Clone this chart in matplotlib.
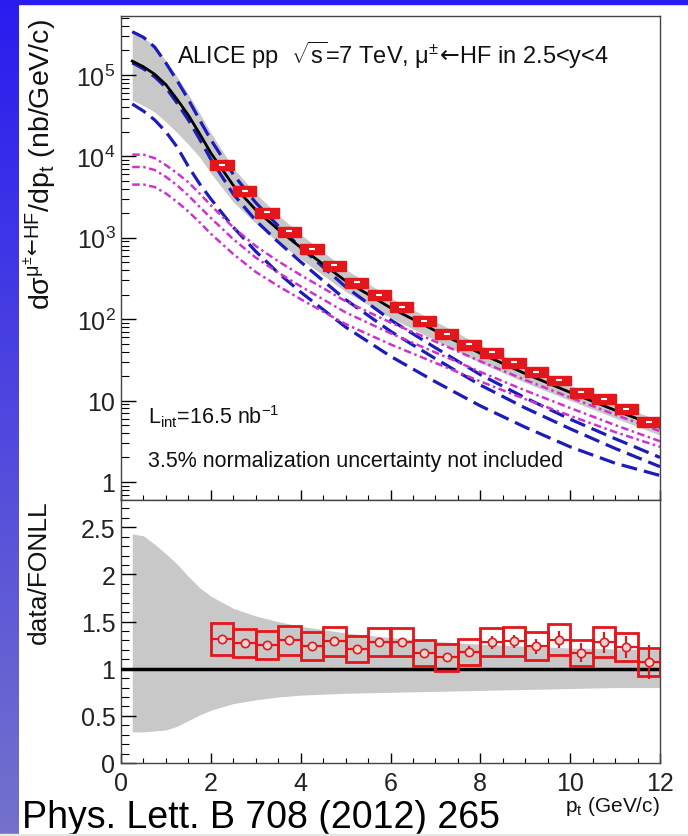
import numpy as np
import matplotlib
matplotlib.use('Agg')
import matplotlib.pyplot as plt
from matplotlib.patches import Rectangle
from matplotlib.ticker import MultipleLocator, LogLocator, FuncFormatter, NullFormatter

plt.rcParams['font.family'] = ['Liberation Sans', 'DejaVu Sans']
plt.rcParams['mathtext.fontset'] = 'custom'
plt.rcParams['mathtext.rm'] = 'Liberation Sans'
plt.rcParams['mathtext.it'] = 'Liberation Sans:italic'
plt.rcParams['mathtext.bf'] = 'Liberation Sans:bold'
plt.rcParams['mathtext.sf'] = 'DejaVu Sans'

# FONLL curves (nb/GeV/c) on a pt grid
pt_fonll = [0.25, 0.5, 0.75, 1, 1.25, 1.5, 1.75, 2, 2.5, 3, 3.5, 4, 5, 6, 7, 8, 9, 10, 11, 12]
fonll_tot = [1.48e5, 1.26e5, 1.02e5, 7.6e4, 5.0e4, 3.2e4, 1.9e4, 1.1e4, 4.4e3, 2.2e3, 1.26e3,
             760, 295, 138, 72, 38, 21.4, 12.6, 7.6, 4.7]
band_hi = [3.4e5, 2.9e5, 2.25e5, 1.5e5, 9.5e4, 5.8e4, 3.4e4, 1.95e4, 7.2e3, 3.5e3, 1.9e3,
           1.1e3, 410, 183, 94, 48, 26.6, 15.4, 9.2, 5.6]
band_lo = [4.9e4, 4.2e4, 3.5e4, 2.65e4, 1.95e4, 1.4e4, 9.8e3, 6.2e3, 2.75e3, 1.5e3, 880,
           550, 218, 104, 55, 29, 16.6, 10, 6.1, 3.75]
charm_c = [1.41e5, 1.19e5, 9.5e4, 7.0e4, 4.5e4, 2.8e4, 1.63e4, 9.2e3, 3.44e3, 1.63e3, 887,
           506, 174, 71, 32.7, 15.5, 8.1, 4.5, 2.58, 1.54]
charm_hi = [3.4e5, 2.9e5, 2.2e5, 1.4e5, 8.5e4, 5.0e4, 2.8e4, 1.6e4, 6.0e3, 2.7e3, 1.4e3,
            760, 250, 98, 44.5, 20.8, 10.8, 5.9, 3.4, 2.0]
charm_lo = [4.4e4, 3.6e4, 2.8e4, 2.0e4, 1.3e4, 7.5e3, 4.6e3, 3.0e3, 1.35e3, 680, 370,
            215, 80, 35, 17, 8.6, 4.7, 2.7, 1.7, 1.2]
beauty_c = [7.4e3, 7.4e3, 6.8e3, 5.6e3, 4.4e3, 3.3e3, 2.4e3, 1.75e3, 960, 570, 373,
            253, 121, 67, 39, 22.5, 13.3, 8.1, 5.0, 3.16]
beauty_hi = [1.05e4, 1.05e4, 9.5e3, 7.8e3, 6.2e3, 4.8e3, 3.5e3, 2.5e3, 1.34e3, 790, 515,
             348, 166, 91, 53, 30.4, 17.9, 10.9, 6.7, 4.2]
beauty_lo = [4.5e3, 4.5e3, 4.2e3, 3.5e3, 2.75e3, 2.1e3, 1.55e3, 1.12e3, 630, 380, 255,
             176, 87, 49, 29, 17.2, 10.4, 6.5, 4.1, 2.7]

# ratio band data/FONLL
ratio_hi = [2.43, 2.41, 2.32, 2.22, 2.11, 1.98, 1.86, 1.77, 1.64, 1.56, 1.50, 1.45, 1.38,
            1.33, 1.29, 1.26, 1.24, 1.22, 1.21, 1.20]
ratio_lo = [0.33, 0.33, 0.34, 0.35, 0.39, 0.45, 0.51, 0.56, 0.63, 0.67, 0.70, 0.72, 0.74,
            0.75, 0.76, 0.77, 0.78, 0.79, 0.80, 0.80]

# measured points
pt_data = [2.25, 2.75, 3.25, 3.75, 4.25, 4.75, 5.25, 5.75, 6.25, 6.75,
           7.25, 7.75, 8.25, 8.75, 9.25, 9.75, 10.25, 10.75, 11.25, 11.75]
sigma_data = [7.9e3, 3.8e3, 2.05e3, 1.2e3, 725, 457, 282, 200, 141, 95,
              66, 49, 39, 29.5, 22.4, 17.8, 12.6, 10.5, 7.9, 5.5]
sigma_syst = [0.15, 0.14, 0.14, 0.14, 0.14, 0.14, 0.14, 0.14, 0.14, 0.14,
              0.14, 0.14, 0.14, 0.14, 0.14, 0.14, 0.14, 0.14, 0.14, 0.14]
ratio_data = [1.32, 1.27, 1.25, 1.30, 1.24, 1.29, 1.21, 1.28, 1.28, 1.17,
              1.12, 1.18, 1.28, 1.29, 1.24, 1.31, 1.17, 1.28, 1.23, 1.07]
ratio_syst = [0.17, 0.15, 0.15, 0.15, 0.15, 0.15, 0.14, 0.15, 0.15, 0.14,
              0.14, 0.14, 0.15, 0.15, 0.15, 0.16, 0.14, 0.16, 0.15, 0.15]
ratio_stat = [0.02, 0.02, 0.02, 0.02, 0.02, 0.02, 0.03, 0.03, 0.03, 0.04,
              0.05, 0.06, 0.07, 0.07, 0.08, 0.09, 0.10, 0.11, 0.12, 0.18]

W, H = 688, 837
fig = plt.figure(figsize=(W / 100, H / 100), dpi=100)
fig.patch.set_facecolor('white')

# blue slide background
bg = fig.add_axes([0, 0, 1, 1], zorder=-10)
top_c = np.array([0x2a, 0x1c, 0xf0]) / 255
bot_c = np.array([0x74, 0x72, 0xcc]) / 255
g = np.linspace(0, 1, 200)[:, None]
img = (top_c * (1 - g) + bot_c * g)[:, None, :]
bg.imshow(img, extent=[0, 19, H, 0], aspect='auto')
bg.add_patch(Rectangle((0, 0), W, 5, color=top_c))
bg.set_xlim(0, W)
bg.set_ylim(H, 0)
bg.axis('off')
fig.add_artist(Rectangle((0, 0), 1, 2 / H, transform=fig.transFigure,
                         color='#e6e9dd', zorder=20))

red = '#e3161b'
ax1 = fig.add_axes([121 / W, 1 - 501 / H, 539 / W, 484 / H])
ax2 = fig.add_axes([121 / W, 1 - 764 / H, 539 / W, 263 / H])

# upper panel
ax1.fill_between(pt_fonll, band_lo, band_hi, color='#c8c8c8', lw=0, zorder=1)
for arr in (charm_hi, charm_c, charm_lo):
    ax1.plot(pt_fonll, arr, color='#1c1cb8', lw=2.3, ls=(0, (5, 2.2)), zorder=3)
for arr in (beauty_hi, beauty_c, beauty_lo):
    ax1.plot(pt_fonll, arr, color='#cc33cc', lw=1.8, ls=(0, (3, 1.4, 1, 1.4)), zorder=3)
ax1.plot(pt_fonll, fonll_tot, color='black', lw=2, zorder=4)
for x, v, s in zip(pt_data, sigma_data, sigma_syst):
    ax1.add_patch(Rectangle((x - 0.26, v * (1 - s)), 0.52, 2 * v * s,
                            facecolor=red, edgecolor=red, lw=1, zorder=5))
ax1.plot(pt_data, sigma_data, ls='none', marker='_', color='white', ms=4, mew=1.5, zorder=6)

ax1.set_yscale('log')
ax1.set_xlim(0, 12)
ax1.set_ylim(0.6, 5.3e5)
ax1.xaxis.set_major_locator(MultipleLocator(2))
ax1.xaxis.set_minor_locator(MultipleLocator(0.5))
ax1.yaxis.set_major_locator(LogLocator(base=10, numticks=12))
ax1.yaxis.set_minor_locator(LogLocator(base=10, subs=np.arange(2, 10), numticks=12))
ax1.yaxis.set_minor_formatter(NullFormatter())


def log_fmt(v, pos):
    if v < 1.5:
        return '1'
    if v < 15:
        return '10'
    return r'$\mathregular{10^{%d}}$' % round(np.log10(v))


ax1.yaxis.set_major_formatter(FuncFormatter(log_fmt))
ax1.tick_params(axis='y', which='major', direction='in', length=11, width=1,
                labelsize=18, pad=4, right=False, labelcolor='#222')
ax1.tick_params(axis='y', which='minor', direction='in', length=5.5, width=0.8, right=False)
ax1.tick_params(axis='x', which='major', direction='in', length=7, width=1,
                top=False, labelbottom=False)
ax1.tick_params(axis='x', which='minor', direction='in', length=3.5, width=0.8, top=False)

# ratio panel
ax2.fill_between(pt_fonll, ratio_lo, ratio_hi, color='#c8c8c8', lw=0, zorder=1)
ax2.axhline(1, color='black', lw=2.5, zorder=3)
for x, r, s in zip(pt_data, ratio_data, ratio_syst):
    ax2.add_patch(Rectangle((x - 0.25, r - s), 0.5, 2 * s, fill=False,
                            edgecolor=red, lw=2, zorder=4))
ax2.errorbar(pt_data, ratio_data, xerr=0.25, yerr=ratio_stat, fmt='o', ms=6,
             mfc='#f4d0d0', mec='#d42020', mew=1.2, ecolor=red, elinewidth=1.6,
             capsize=0, zorder=5)
ax2.set_xlim(0, 12)
ax2.set_ylim(0, 2.79)
ax2.xaxis.set_major_locator(MultipleLocator(2))
ax2.xaxis.set_minor_locator(MultipleLocator(0.5))
ax2.yaxis.set_major_locator(MultipleLocator(0.5))
ax2.yaxis.set_minor_locator(MultipleLocator(0.1))
ax2.yaxis.set_major_formatter(FuncFormatter(lambda v, p: '%g' % v))
ax2.tick_params(axis='y', which='major', direction='in', length=11, width=1,
                labelsize=18, pad=4, right=False, labelcolor='#222')
ax2.tick_params(axis='y', which='minor', direction='in', length=5.5, width=0.8, right=False)
ax2.tick_params(axis='x', which='major', direction='in', length=7, width=1,
                labelsize=18, pad=6, top=False, labelcolor='#222')
ax2.tick_params(axis='x', which='minor', direction='in', length=3.5, width=0.8, top=False)

for ax in (ax1, ax2):
    for sp in ax.spines.values():
        sp.set_linewidth(1)
        sp.set_color('#444')

# texts
fig.text(177 / W, 1 - 55 / H,
         r'ALICE pp  $\sqrt{\mathrm{s}}$=7 TeV, $\mathrm{\mu}^{\pm}\!\mathsf{\leftarrow}\!$HF in 2.5<y<4',
         fontsize=17, ha='left', va='center', color='#111')
fig.text(148 / W, 1 - 417 / H, r'L$_{\mathrm{int}}$=16.5 nb$^{\mathrm{-1}}$',
         fontsize=15.5, ha='left', va='center', color='#111')
fig.text(148 / W, 1 - 462 / H, '3.5% normalization uncertainty not included',
         fontsize=15.5, ha='left', va='center', color='#111')
fig.text(40 / W, 1 - 19 / H,
         r'd$\mathrm{\sigma}^{\mathrm{\mu}^{\pm}\!\mathsf{\leftarrow}\!\mathrm{HF}}$/dp$_{\mathrm{t}}$ (nb/GeV/c)',
         fontsize=20.5, rotation=90, ha='center', va='top', color='#111')
fig.text(39 / W, 1 - 500 / H, 'data/FONLL', fontsize=19, rotation=90,
         ha='center', va='top', color='#111')
fig.text(660 / W, 1 - 807 / H, r'p$_{\mathrm{t}}$ (GeV/c)', fontsize=15,
         ha='right', va='center', color='#111')
fig.text(22 / W, 1 - 828 / H, 'Phys. Lett. B 708 (2012) 265', fontsize=27,
         ha='left', va='baseline', color='black')

fig.savefig('out.png', dpi=100)
